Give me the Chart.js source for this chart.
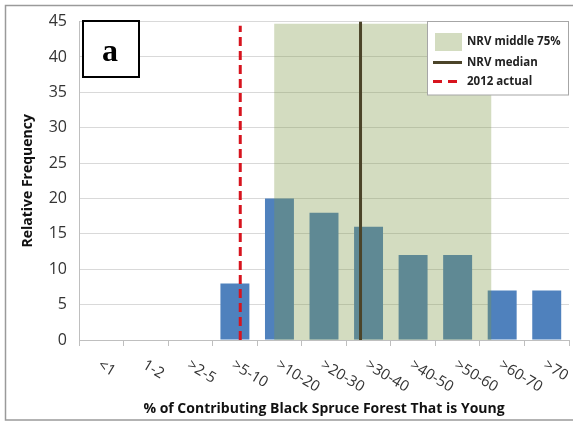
<!DOCTYPE html>
<html><head><meta charset="utf-8">
<script src="https://cdn.jsdelivr.net/npm/chart.js@4.4.0/dist/chart.umd.min.js"></script>
<style>html,body{margin:0;padding:0;background:#fff}#wrap{width:573px;height:423px;position:relative}</style>
</head><body><div id="wrap"><canvas id="c" width="573" height="423"></canvas></div>
<script>
const categories = ['<1','1-2','>2-5','>5-10','>10-20','>20-30','>30-40','>40-50','>50-60','>60-70','>70'];
const frequency = [0,0,0,8,20,18,16,12,12,7,7];
const nrvMiddleRange = [3.88, 8.76];   // in category-index units
const nrvMiddleTop = 44.7;
const nrvMedian = 5.82;
const actual2012 = 3.12;
const actualTop = 44.4;
const yTicks = [0,5,10,15,20,25,30,35,40,45];
const legendLabels = ['NRV middle 75%','NRV median','2012 actual'];
const panelLetter = 'a';
const yTitle = 'Relative Frequency';
const xTitle = '% of Contributing Black Spruce Forest That is Young';

const FONT = "'Open Sans', 'Liberation Sans', sans-serif";
const BAR = '#4f81bd';
const SHADE = 'rgba(126,152,70,0.34)';
const MEDIAN = '#4b4429';
const RED = '#d7141e';

const decor = {
  id: 'decor',
  beforeDraw(chart) {
    const ctx = chart.ctx;
    ctx.save();
    ctx.fillStyle = '#fff';
    ctx.fillRect(0,0,chart.width,chart.height);
    ctx.strokeStyle = '#9a9a9a';
    ctx.lineWidth = 1.5;
    ctx.strokeRect(5.5, 5.5, 620, 414.5);
    ctx.restore();
  },
  afterDraw(chart) {
    const ctx = chart.ctx;
    const xs = chart.scales.x, ys = chart.scales.y;
    ctx.save();
    // x tick labels rotated clockwise
    ctx.font = '15px ' + FONT;
    ctx.fillStyle = '#333';
    ctx.textAlign = 'left';
    ctx.textBaseline = 'alphabetic';
    const ang = 31 * Math.PI / 180;
    categories.forEach((lab, i) => {
      const px = xs.getPixelForValue(i) - 10 * Math.sin(ang) + 1;
      const py = ys.bottom + 19 + 10 * Math.cos(ang);
      ctx.save();
      ctx.translate(px, py);
      ctx.rotate(ang);
      ctx.fillText(lab, 0, 0);
      ctx.restore();
    });
    // panel letter box
    ctx.fillStyle = '#fff';
    ctx.fillRect(83, 21, 56, 56);
    ctx.strokeStyle = '#000';
    ctx.lineWidth = 2;
    ctx.strokeRect(83, 21, 56, 56);
    ctx.fillStyle = '#000';
    ctx.font = "bold 32px 'Liberation Serif', serif";
    ctx.textAlign = 'center';
    ctx.textBaseline = 'alphabetic';
    ctx.fillText(panelLetter, 110, 61);
    // legend
    const lx = 427.5, ly = 21.5, lw = 141, lh = 73.5;
    ctx.fillStyle = '#fff';
    ctx.fillRect(lx, ly, lw, lh);
    ctx.strokeStyle = '#a6a6a6';
    ctx.lineWidth = 1;
    ctx.strokeRect(lx, ly, lw, lh);
    const ds = chart.data.datasets;
    ctx.fillStyle = '#d3dcc0';
    ctx.fillRect(435, 33, 27, 18);
    ctx.strokeStyle = ds[2].borderColor;
    ctx.lineWidth = 3;
    ctx.beginPath(); ctx.moveTo(433, 62.5); ctx.lineTo(462, 62.5); ctx.stroke();
    ctx.strokeStyle = ds[3].borderColor;
    ctx.setLineDash([9,6]);
    ctx.beginPath(); ctx.moveTo(433, 81.5); ctx.lineTo(462, 81.5); ctx.stroke();
    ctx.setLineDash([]);
    ctx.fillStyle = '#222';
    ctx.font = 'bold 11.5px ' + FONT;
    ctx.textAlign = 'left';
    ctx.textBaseline = 'middle';
    [42, 62.5, 81.5].forEach((y, i) => ctx.fillText(legendLabels[i], 467, y));
    ctx.restore();
  }
};

new Chart(document.getElementById('c'), {
  type: 'bar',
  data: {
    labels: categories,
    datasets: [
      { type: 'bar', label: 'Frequency', data: frequency, backgroundColor: BAR, grouped: false,
        barPercentage: 0.65, categoryPercentage: 1, order: 3, xAxisID: 'x', yAxisID: 'y' },
      { type: 'line', label: legendLabels[0], xAxisID: 'xl', yAxisID: 'y',
        data: [{x: nrvMiddleRange[0], y: nrvMiddleTop}, {x: nrvMiddleRange[1], y: nrvMiddleTop}],
        borderWidth: 0, pointRadius: 0, fill: 'origin', backgroundColor: SHADE, borderColor: 'rgba(0,0,0,0)', order: 2 },
      { type: 'line', label: legendLabels[1], xAxisID: 'xl', yAxisID: 'y',
        data: [{x: nrvMedian, y: 0}, {x: nrvMedian, y: 45}],
        borderWidth: 3, pointRadius: 0, borderColor: MEDIAN, fill: false, order: 1 },
      { type: 'line', label: legendLabels[2], xAxisID: 'xl', yAxisID: 'y',
        data: [{x: actual2012, y: 0}, {x: actual2012, y: actualTop}],
        borderWidth: 3, pointRadius: 0, borderColor: RED, borderDash: [9,5], fill: false, order: 0 }
    ]
  },
  options: {
    responsive: false,
    animation: false,
    layout: { padding: { left: 0, top: 20, right: 4, bottom: 0 } },
    plugins: { legend: { display: false }, tooltip: { enabled: false } },
    scales: {
      x: {
        type: 'category', offset: true,
        grid: { drawOnChartArea: false, drawTicks: true, tickLength: 6, offset: true, color: '#bfbfbf' },
        border: { color: '#bfbfbf', width: 1 },
        ticks: { display: false },
        title: { display: true, text: xTitle, font: { family: FONT, size: 14, weight: 'bold' }, color: '#111', padding: { top: 0, bottom: 6 } },
        afterFit(s) { s.height = 83; }
      },
      xl: { type: 'linear', axis: 'x', position: 'bottom', display: false, offset: false, grid: { offset: false }, min: -0.5, max: 10.5 },
      y: {
        min: 0, max: 45,
        afterBuildTicks(s) { s.ticks = yTicks.map(v => ({ value: v })); },
        grid: { color: '#d9d9d9', drawTicks: false },
        border: { color: '#bfbfbf', width: 1 },
        ticks: { padding: 12, color: '#333', font: { family: FONT, size: 16 } },
        title: { display: true, text: yTitle, font: { family: FONT, size: 14, weight: 'bold' }, color: '#111', padding: { top: 20, bottom: 0 } },
        afterFit(s) { s.width = 79; }
      }
    }
  },
  plugins: [decor]
});
</script></body></html>
